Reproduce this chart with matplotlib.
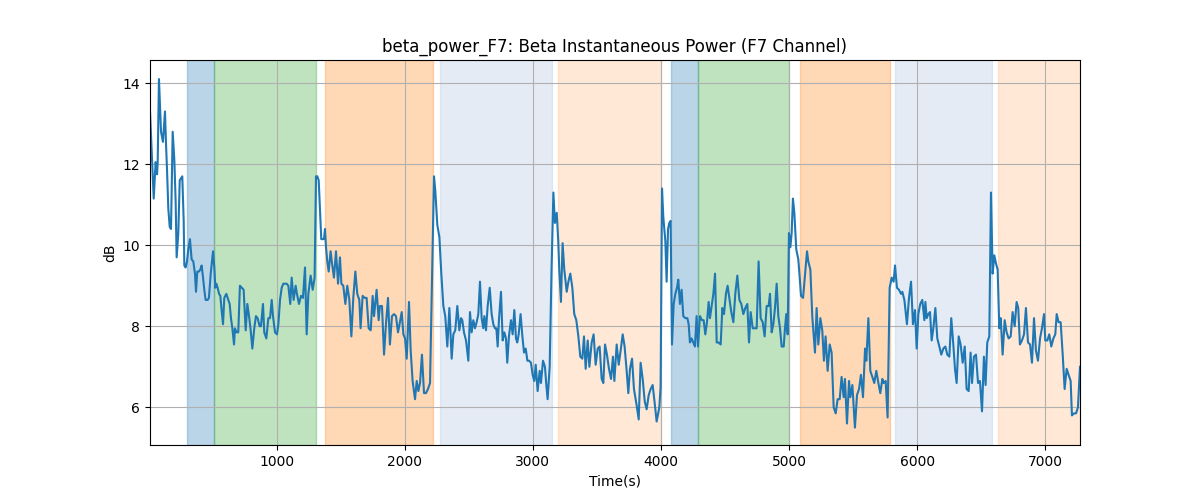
import numpy as np
import matplotlib
matplotlib.use("Agg")
import matplotlib.pyplot as plt

# time (s) and beta power (dB)
time_s = [
    11, 40, 55, 66, 71, 81, 97, 112, 128, 136, 144, 154, 165, 175, 188, 201, 211, 219, 232, 243,
    253, 263, 274, 279, 289, 300, 310, 323, 336, 349, 362, 370, 380, 393, 404, 414, 425, 435, 445, 461,
    471, 485, 503, 513, 521, 529, 539, 550, 560, 570, 581, 591, 607, 617, 633, 643, 654, 667, 674, 687,
    700, 713, 727, 742, 758, 771, 784, 797, 810, 825, 838, 851, 867, 877, 893, 903, 919, 935, 948, 961,
    971, 987, 1002, 1013, 1026, 1039, 1052, 1065, 1078, 1091, 1106, 1117, 1132, 1148, 1158, 1174, 1190, 1205, 1221,
    1234, 1247, 1265, 1281, 1296, 1307, 1317, 1328, 1338, 1348, 1359, 1369, 1377, 1385, 1395, 1406, 1421, 1432,
    1447, 1463, 1479, 1494, 1505, 1520, 1536, 1551, 1567, 1583, 1598, 1614, 1629, 1645, 1655, 1671, 1687, 1702,
    1718, 1734, 1749, 1760, 1780, 1796, 1806, 1822, 1838, 1853, 1869, 1884, 1900, 1916, 1931, 1947, 1962, 1976,
    1989, 2002, 2015, 2033, 2046, 2061, 2080, 2093, 2106, 2119, 2134, 2150, 2165, 2181, 2197, 2210, 2228, 2238,
    2254, 2270, 2285, 2301, 2316, 2332, 2348, 2366, 2379, 2394, 2410, 2426,
    2439, 2449, 2462, 2478, 2496, 2509, 2522, 2535, 2548, 2561, 2574, 2587, 2600, 2613, 2621, 2634, 2647, 2663,
    2678, 2691, 2704, 2715, 2725, 2735, 2751, 2764, 2777, 2790, 2800, 2813, 2829, 2842, 2855, 2868, 2878, 2889,
    2904, 2918, 2931, 2944, 2957, 2970, 2985, 2998, 3011, 3022, 3037, 3053, 3063, 3079, 3094, 3105, 3115, 3131,
    3146, 3160, 3172, 3186, 3198, 3206, 3219, 3232, 3245, 3264, 3277, 3292, 3308, 3323, 3339, 3355, 3370, 3386,
    3399, 3412, 3428, 3441, 3459, 3474, 3490, 3506, 3521, 3537, 3550, 3563, 3578, 3594, 3610, 3625, 3636,
    3654, 3670, 3685, 3701, 3716, 3732, 3745, 3758, 3774, 3789, 3810, 3826, 3841, 3857, 3873, 3888, 3904, 3919,
    3935, 3951, 3966, 3987, 3997, 4008, 4018, 4034, 4044, 4055, 4065, 4075, 4086, 4099, 4112, 4125, 4135, 4148,
    4161, 4174, 4190, 4206, 4216, 4226, 4239, 4252, 4265, 4278, 4289, 4304, 4320, 4333, 4346, 4359, 4372, 4382,
    4393, 4409, 4422, 4435, 4450, 4466, 4479, 4492, 4507, 4520, 4533, 4549, 4565, 4580, 4596, 4612, 4627, 4643,
    4658, 4674, 4687, 4700, 4716, 4731, 4747, 4762, 4778, 4794, 4809, 4825, 4840, 4851,
    4864, 4877, 4890, 4903, 4916, 4929, 4942, 4958, 4968, 4978, 4989, 4999, 5010, 5020, 5030, 5041, 5056, 5072,
    5083, 5093, 5109, 5124, 5140, 5150, 5166, 5181, 5202, 5215, 5228, 5244, 5259, 5272, 5285, 5301, 5317, 5332,
    5348, 5364, 5379, 5395, 5410, 5426, 5436, 5452, 5468, 5478, 5494, 5514, 5530, 5546, 5561, 5577, 5593, 5603,
    5619, 5634, 5650, 5665, 5681, 5697, 5712, 5728, 5738, 5754, 5769, 5785, 5801, 5816, 5827, 5842, 5858, 5874,
    5884, 5900, 5920, 5936, 5952, 5967, 5983, 5996, 6009, 6024, 6040, 6056,
    6064, 6074, 6087, 6100, 6113, 6126, 6142, 6157, 6173, 6188, 6204, 6220, 6235, 6251, 6266, 6282, 6295, 6308,
    6324, 6339, 6355, 6371, 6386, 6402, 6417, 6428, 6443, 6459, 6475, 6490, 6506, 6521, 6534, 6547, 6563, 6576,
    6589, 6602, 6615, 6628, 6641, 6652, 6667, 6683, 6698, 6714, 6730, 6745, 6761, 6776, 6789, 6802, 6818, 6834,
    6849, 6865, 6881, 6896, 6912, 6927, 6943, 6959, 6974, 6990, 7000, 7016, 7031, 7047, 7063, 7078, 7089, 7104,
    7120, 7136, 7151, 7167, 7182, 7198, 7208, 7224, 7240, 7255, 7271,
]

beta_db = [
    13.3, 11.15, 12.05, 11.75, 12.05, 14.1, 12.8, 12.55, 13.3, 12.5, 11.85, 10.9, 10.45, 10.4, 12.8, 12.1, 11.1, 9.7, 10.3, 11.6,
    11.65, 11.7, 10.6, 9.5, 9.45, 9.6, 9.9, 10.15, 9.65, 9.6, 9.3, 8.85, 9.35, 9.35, 9.4, 9.5, 9.2, 8.9, 8.65, 8.65,
    8.7, 9.3, 9.85, 9.45, 8.95, 9.05, 8.95, 8.8, 8.75, 8.4, 8.05, 8.7, 8.8, 8.7, 8.55, 8.2, 7.95, 7.55, 7.95, 7.85,
    7.85, 9.0, 8.95, 8.9, 7.9, 8.55, 8.25, 7.9, 7.45, 7.95, 8.25, 8.2, 8.0, 8.0, 8.55, 7.85, 7.7, 8.2, 8.2, 8.65,
    8.25, 7.85, 7.8, 8.05, 8.65, 8.95, 9.05, 9.05, 9.05, 9.0, 8.55, 9.2, 8.65, 9.0, 8.8, 8.55, 8.75, 8.7, 9.45,
    7.8, 8.8, 9.25, 8.9, 9.2, 11.7, 11.7, 11.6, 10.85, 10.15, 10.15, 10.15, 10.4, 9.95, 9.6, 9.35, 9.85, 9.55,
    9.2, 9.85, 9.05, 9.7, 9.05, 9.0, 8.55, 9.0, 8.65, 7.75, 8.7, 9.35, 8.8, 8.65, 7.95, 8.75, 8.7, 8.7,
    7.95, 7.9, 8.75, 8.25, 8.9, 8.15, 8.5, 8.5, 7.3, 8.05, 8.7, 7.55, 8.25, 8.3, 8.25, 7.85, 8.1, 8.35,
    7.8, 7.7, 7.2, 8.6, 7.4, 6.65, 6.2, 6.65, 6.4, 6.6, 7.3, 6.35, 6.35, 6.45, 6.6, 8.8, 11.7, 11.35,
    10.5, 10.2, 9.3, 8.5, 8.25, 7.5, 8.45, 7.2, 7.8, 7.9, 8.5, 7.9,
    8.2, 8.15, 7.85, 7.65, 7.15, 8.35, 7.85, 8.15, 7.95, 8.1, 8.3, 9.1, 8.2, 7.95, 8.25, 7.9, 8.5, 8.95,
    8.3, 8.05, 7.95, 7.95, 7.5, 8.15, 8.85, 7.65, 7.85, 7.7, 7.1, 7.75, 8.15, 7.8, 8.4, 7.7, 7.6, 7.8,
    8.3, 7.75, 7.35, 7.45, 7.15, 7.15, 7.1, 6.8, 6.65, 7.05, 6.4, 6.9, 6.6, 7.15, 7.0, 6.55, 6.2, 7.0,
    9.45, 11.3, 10.55, 10.8, 10.1, 9.4, 8.6, 10.05, 9.4, 8.85, 9.1, 9.3, 8.95, 8.3, 8.15, 7.75, 7.25, 7.2,
    7.75, 6.95, 7.65, 7.0, 7.6, 7.8, 7.05, 7.45, 7.5, 6.7, 6.6, 7.55, 7.3, 6.95, 6.7, 7.25, 6.65,
    7.55, 7.05, 7.4, 7.8, 7.5, 6.9, 6.35, 6.95, 7.2, 6.45, 6.05, 5.7, 7.1, 6.7, 6.15, 5.95, 6.3, 6.45,
    6.55, 6.1, 5.65, 6.0, 6.5, 11.4, 10.7, 10.1, 9.1, 10.4, 10.55, 10.6, 7.55, 8.55, 8.8, 8.95, 9.15, 8.55,
    8.9, 8.25, 8.2, 8.2, 8.05, 7.6, 7.7, 7.6, 7.5, 8.25, 7.5, 8.25, 8.15, 8.15, 7.8, 8.1, 8.6, 8.2,
    8.45, 8.8, 9.3, 7.6, 7.6, 7.55, 8.45, 8.3, 8.8, 9.0, 8.7, 8.35, 8.1, 8.8, 9.25, 8.65, 8.55, 8.3,
    8.45, 8.55, 7.6, 8.35, 7.95, 7.95, 7.95, 9.6, 8.2, 8.1, 7.75, 8.5, 8.5, 8.8,
    7.85, 8.05, 8.45, 9.05, 8.25, 7.95, 7.5, 7.5, 7.95, 8.3, 7.8, 10.3, 9.95, 10.3, 11.15, 10.8, 9.9, 9.65,
    9.2, 8.75, 8.7, 9.25, 9.85, 9.6, 9.4, 8.25, 7.35, 8.45, 7.55, 8.2, 7.9, 7.15, 7.75, 6.9, 7.55, 7.35,
    6.0, 5.85, 6.2, 6.2, 6.75, 6.25, 6.7, 5.6, 6.65, 6.25, 6.55, 5.5, 6.3, 6.45, 6.8, 6.25, 7.45, 7.15,
    8.2, 6.9, 6.75, 6.6, 6.9, 6.6, 6.35, 6.7, 6.6, 6.65, 5.75, 8.95, 9.2, 9.1, 9.5, 8.95, 8.9, 8.8,
    8.85, 8.65, 8.05, 8.7, 9.1, 8.05, 8.4, 7.45, 8.3, 8.55, 8.65, 8.15,
    8.6, 8.2, 8.3, 8.35, 7.65, 7.95, 8.45, 7.7, 7.5, 7.3, 7.45, 7.5, 7.3, 7.25, 8.2, 7.55, 6.95, 6.6,
    7.75, 7.55, 7.1, 7.5, 6.45, 6.4, 7.35, 6.6, 7.25, 7.3, 6.6, 6.65, 5.9, 7.25, 6.55, 7.6, 7.75, 11.3,
    9.3, 9.75, 9.55, 9.4, 7.95, 8.2, 7.3, 8.15, 7.85, 7.7, 7.75, 8.35, 8.0, 8.6, 8.45, 7.55, 7.65, 7.8,
    8.45, 7.6, 7.55, 7.1, 8.2, 7.4, 7.15, 7.7, 7.95, 8.3, 7.65, 7.65, 7.8, 7.5, 7.7, 7.8, 8.3, 8.1,
    8.1, 7.3, 6.45, 6.95, 6.8, 6.65, 5.8, 5.85, 5.85, 6.0, 7.0,
]

# shaded task segments: start, end, colour, alpha
seg_start = [302, 511, 1377, 2275, 3193, 4078, 4291, 5085, 5827, 6628]
seg_end = [511, 1307, 2218, 3146, 3997, 4291, 5002, 5785, 6584, 7271]
seg_color = ["C0", "C2", "C1", "lightsteelblue", "C1", "C0", "C2", "C1", "lightsteelblue", "C1"]
seg_alpha = [0.3, 0.3, 0.3, 0.33, 0.17, 0.3, 0.3, 0.3, 0.33, 0.17]

fig, ax = plt.subplots(figsize=(12, 5))

for s, e, c, a in zip(seg_start, seg_end, seg_color, seg_alpha):
    ax.axvspan(s, e, color=c, alpha=a)

ax.plot(time_s, beta_db, color="C0", linewidth=1.5)

ax.set_xlim(time_s[0], time_s[-1])
ax.set_ylim(5.07, 14.57)
ax.set_title("beta_power_F7: Beta Instantaneous Power (F7 Channel)")
ax.set_xlabel("Time(s)")
ax.set_ylabel("dB")
ax.grid(True)

fig.savefig("out.png", dpi=100)
